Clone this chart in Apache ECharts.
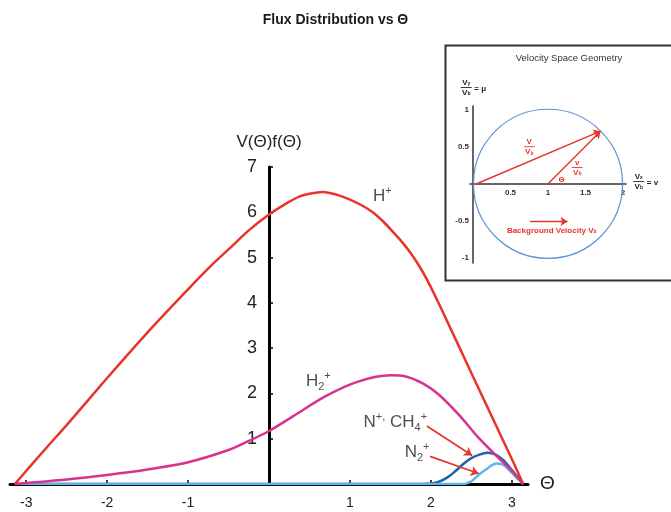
<!DOCTYPE html>
<html>
<head>
<meta charset="utf-8">
<script src="https://cdn.jsdelivr.net/npm/echarts@6/dist/echarts.min.js"></script>
<style>
  html, body { margin: 0; padding: 0; background: #fff; }
  #chart { width: 671px; height: 512px; }
</style>
</head>
<body>
<div id="chart"></div>
<script>
// V(Θ)f(Θ) for each ion species, sampled as [Θ, value]
const hPlus = [[-3.14,0],[-2.75,0.8],[-2.5,1.3],[-2.0,2.34],[-1.5,3.35],[-1.0,4.3],[-0.7,4.85],[-0.5,5.18],
  [-0.25,5.6],[0,5.95],[0.2,6.18],[0.38,6.35],[0.5,6.41],[0.67,6.45],[0.85,6.38],[1.0,6.28],[1.15,6.15],
  [1.29,5.99],[1.42,5.78],[1.54,5.55],[1.65,5.33],[1.75,5.1],[1.85,4.83],[1.95,4.52],[2.1,3.98],
  [2.5,2.45],[3.0,0.55],[3.14,0]];
const h2Plus = [[-3.14,0],[-2.5,0.1],[-2.0,0.2],[-1.5,0.32],[-1.0,0.48],[-0.5,0.75],[-0.25,0.95],[0,1.17],
  [0.3,1.5],[0.7,1.94],[1.1,2.26],[1.5,2.4],[1.7,2.37],[1.9,2.22],[2.1,1.97],[2.35,1.52],[2.6,1.0],
  [2.85,0.55],[2.95,0.38],[3.0,0.29],[3.07,0.15],[3.14,0]];
const nCh4Plus = [[-3.14,0],[1.9,0],[2.0,0.01],[2.1,0.05],[2.2,0.14],[2.3,0.28],[2.4,0.44],[2.5,0.57],
  [2.6,0.65],[2.7,0.69],[2.8,0.65],[2.9,0.52],[2.95,0.42],[3.0,0.31],[3.07,0.16],[3.14,0]];
const n2Plus = [[-3.14,0],[2.4,0],[2.45,0.02],[2.5,0.06],[2.57,0.17],[2.63,0.26],[2.69,0.33],[2.75,0.41],
  [2.81,0.45],[2.87,0.44],[2.92,0.39],[2.97,0.3],[3.02,0.21],[3.08,0.1],[3.14,0]];

// axis ticks
const thetaTicks = [-3, -2, -1, 1, 2, 3];
const fluxTicks = [1, 2, 3, 4, 5, 6, 7];
const insetXTicks = [0.5, 1, 1.5, 2];
const insetYTicks = [-1, -0.5, 0.5, 1];

// species labels and the pointers to the small curves
const speciesLabels = ['{m|H}{sup|+}', '{m|H}{sub|2}{sup|+}', '{m|N}{sup|+,}{m| CH}{sub|4}{sup|+}', '{m|N}{sub|2}{sup|+}'];
const speciesLabelAt = [[1.40, 6.35], [0.61, 2.26], [1.56, 1.36], [1.83, 0.70]];
const pointerLines = [[[1.95, 1.28], [2.51, 0.63]], [[1.99, 0.61], [2.59, 0.23]]];

// velocity-space sketch: circle of speeds, velocity vectors
const circleCenter = [1, 0];
const circleRadius = 1;
const velocityTip = [1.70, 0.71];
const bulkArrow = [[0.76, -0.51], [1.26, -0.51]];

const FONT = 'Liberation Sans, Arial, Helvetica, sans-serif';
const RED = '#e8342a';
const INK = '#222';

// fraction-style annotations inside the sketch
const insetNotes = [
  { at: [-0.09, 1.30], num: ['V', 'y'], den: ['V', 'b'], tail: '= μ', color: INK },
  { at: [2.21, 0.03], num: ['V', 'x'], den: ['V', 'b'], tail: '= v', color: INK },
  { at: [0.75, 0.50], num: ['V', ''], den: ['V', 'b'], tail: '', color: RED },
  { at: [1.39, 0.22], num: ['v', ''], den: ['V', 'b'], tail: '', color: RED }
];
const insetTexts = [
  { at: [1.18, 0.05], text: '{a|Θ}', color: RED },
  { at: [1.05, -0.63], text: '{a|Background Velocity V}{s|b}', color: RED }
];

// plot frames (pixels) and value ranges
const MAIN = { left: 10, top: 167, width: 518, height: 317, xMin: -3.2, xMax: 3.2 };
const SKETCH = { left: 470, top: 106, width: 156, height: 157, xMin: -0.04, xMax: 2.04, yMin: -1.07, yMax: 1.05 };
// shift the axes so that they cross at zero
const mainYOffset = -MAIN.width * (0 - MAIN.xMin) / (MAIN.xMax - MAIN.xMin);
const sketchYOffset = -SKETCH.width * (0 - SKETCH.xMin) / (SKETCH.xMax - SKETCH.xMin);
const sketchXOffset = -SKETCH.height * (0 - SKETCH.yMin) / (SKETCH.yMax - SKETCH.yMin);

const chart = echarts.init(document.getElementById('chart'), null, { renderer: 'canvas' });

function small(color) {
  return {
    a: { fontSize: 8, fontFamily: FONT, color: color, fill: color, fontWeight: 'bold' },
    s: { fontSize: 5, fontFamily: FONT, color: color, fill: color, verticalAlign: 'bottom', fontWeight: 'bold' }
  };
}

chart.setOption({
  animation: false,
  backgroundColor: '#fff',
  title: [
    { text: 'Flux Distribution vs Θ', left: 'center', top: 8,
      textStyle: { fontFamily: FONT, fontSize: 14, fontWeight: 'bold', color: '#1a1a1a' } },
    { text: 'Velocity Space Geometry', left: 564, top: 48, textAlign: 'center',
      textStyle: { fontFamily: FONT, fontSize: 9.5, fontWeight: 'normal', color: '#333' } }
  ],
  graphic: [
    { type: 'rect', left: 443, top: 43, shape: { width: 227, height: 235 },
      style: { fill: 'none', stroke: '#333', lineWidth: 2 }, silent: true }
  ],
  grid: [
    { left: MAIN.left, top: MAIN.top, width: MAIN.width, height: MAIN.height, containLabel: false, outerBoundsMode: 'none' },
    { left: SKETCH.left, top: SKETCH.top, width: SKETCH.width, height: SKETCH.height, containLabel: false, outerBoundsMode: 'none' }
  ],
  xAxis: [
    {
      type: 'value', gridIndex: 0, min: MAIN.xMin, max: MAIN.xMax,
      name: 'Θ', nameLocation: 'end', nameGap: 12,
      nameTextStyle: { fontFamily: FONT, fontSize: 19, color: INK, verticalAlign: 'middle', padding: [0, 0, 4, 0] },
      splitLine: { show: false },
      axisLine: { show: true, onZero: false, lineStyle: { color: '#000', width: 3 } },
      axisTick: { show: true, inside: true, length: 4, customValues: thetaTicks, lineStyle: { color: '#000', width: 1.5 } },
      axisLabel: { show: true, customValues: thetaTicks, margin: 12, fontFamily: FONT, fontSize: 14, color: INK }
    },
    {
      type: 'value', gridIndex: 1, min: SKETCH.xMin, max: SKETCH.xMax, offset: sketchXOffset,
      splitLine: { show: false },
      axisLine: { show: true, onZero: false, lineStyle: { color: '#333', width: 1.5 } },
      axisTick: { show: false },
      axisLabel: { show: true, customValues: insetXTicks, margin: 5, fontFamily: FONT, fontSize: 8, fontWeight: 'bold', color: '#333' }
    }
  ],
  yAxis: [
    {
      type: 'value', gridIndex: 0, min: 0, max: 7, offset: mainYOffset,
      name: 'V(Θ)f(Θ)', nameLocation: 'end', nameGap: 16,
      nameTextStyle: { fontFamily: FONT, fontSize: 17, color: INK, align: 'center', verticalAlign: 'bottom' },
      splitLine: { show: false },
      axisLine: { show: true, onZero: false, lineStyle: { color: '#000', width: 3 } },
      axisTick: { show: true, inside: true, length: 4, customValues: fluxTicks, lineStyle: { color: '#000', width: 1.5 } },
      axisLabel: { show: true, customValues: fluxTicks, margin: 12, fontFamily: FONT, fontSize: 18, color: INK }
    },
    {
      type: 'value', gridIndex: 1, min: SKETCH.yMin, max: SKETCH.yMax, offset: sketchYOffset,
      splitLine: { show: false },
      axisLine: { show: true, onZero: false, lineStyle: { color: '#333', width: 1.5 } },
      axisTick: { show: false },
      axisLabel: { show: true, customValues: insetYTicks, margin: 4, fontFamily: FONT, fontSize: 8, fontWeight: 'bold', color: '#333' }
    }
  ],
  series: [
    { name: 'N+, CH4+', type: 'line', data: nCh4Plus, smooth: 0.3, showSymbol: false, z: 3,
      lineStyle: { color: '#1d62ad', width: 2.5 } },
    { name: 'N2+', type: 'line', data: n2Plus, smooth: 0.3, showSymbol: false, z: 4,
      lineStyle: { color: '#5cb6e8', width: 2.5 } },
    { name: 'H2+', type: 'line', data: h2Plus, smooth: 0.3, showSymbol: false, z: 5,
      lineStyle: { color: '#d8328f', width: 2.5 } },
    { name: 'H+', type: 'line', data: hPlus, smooth: 0.3, showSymbol: false, z: 6,
      lineStyle: { color: RED, width: 2.5 } },
    { name: 'labels', type: 'scatter', data: speciesLabelAt, symbolSize: 1, z: 7,
      itemStyle: { color: 'rgba(0,0,0,0)' },
      label: {
        show: true, position: 'inside',
        formatter: p => speciesLabels[p.dataIndex],
        rich: {
          m: { fontFamily: FONT, fontSize: 17, color: INK, lineHeight: 22 },
          sup: { fontFamily: FONT, fontSize: 11, color: INK, verticalAlign: 'top', lineHeight: 11 },
          sub: { fontFamily: FONT, fontSize: 11, color: INK, verticalAlign: 'bottom', lineHeight: 11 }
        }
      } },
    { name: 'pointers', type: 'lines', coordinateSystem: 'cartesian2d', z: 8,
      data: pointerLines.map(c => ({ coords: c })),
      symbol: ['none', 'arrow'], symbolSize: 8,
      lineStyle: { color: RED, width: 1.6, opacity: 1 } },

    // velocity-space sketch
    { name: 'speed circle', type: 'custom', xAxisIndex: 1, yAxisIndex: 1, clip: false, z: 2,
      data: [circleCenter],
      renderItem: (params, api) => {
        const c = api.coord([api.value(0), api.value(1)]);
        const s = api.size([circleRadius, circleRadius]);
        return { type: 'circle', shape: { cx: c[0], cy: c[1], r: (s[0] + s[1]) / 2 },
          style: { fill: 'none', stroke: '#5b93d3', lineWidth: 1.2 } };
      } },
    { name: 'velocity vectors', type: 'lines', coordinateSystem: 'cartesian2d', xAxisIndex: 1, yAxisIndex: 1, z: 4,
      data: [{ coords: [[0.05, 0], velocityTip] }, { coords: [circleCenter, velocityTip] }, { coords: bulkArrow }],
      symbol: ['none', 'arrow'], symbolSize: 7,
      lineStyle: { color: RED, width: 1.4, opacity: 1 } },
    { name: 'sketch notes', type: 'custom', xAxisIndex: 1, yAxisIndex: 1, clip: false, z: 5,
      data: insetNotes.map(n => n.at),
      renderItem: (params, api) => {
        const n = insetNotes[params.dataIndex];
        const p = api.coord([api.value(0), api.value(1)]);
        const r = small(n.color);
        const kids = [
          { type: 'text', x: p[0], y: p[1] - 1,
            style: { text: '{a|' + n.num[0] + '}' + (n.num[1] ? '{s|' + n.num[1] + '}' : ''), rich: r,
              align: 'center', verticalAlign: 'bottom', fill: n.color } },
          { type: 'line', shape: { x1: p[0] - 5.5, y1: p[1], x2: p[0] + 5.5, y2: p[1] },
            style: { stroke: n.color, lineWidth: 0.9 } },
          { type: 'text', x: p[0], y: p[1] + 1,
            style: { text: '{a|' + n.den[0] + '}{s|' + n.den[1] + '}', rich: r,
              align: 'center', verticalAlign: 'top', fill: n.color } }
        ];
        if (n.tail) {
          kids.push({ type: 'text', x: p[0] + 8, y: p[1] + 1,
            style: { text: '{a|' + n.tail + '}', rich: r, align: 'left', verticalAlign: 'middle', fill: n.color } });
        }
        return { type: 'group', children: kids };
      } },
    { name: 'sketch text', type: 'custom', xAxisIndex: 1, yAxisIndex: 1, clip: false, z: 5,
      data: insetTexts.map(t => t.at),
      renderItem: (params, api) => {
        const t = insetTexts[params.dataIndex];
        const p = api.coord([api.value(0), api.value(1)]);
        return { type: 'text', x: p[0], y: p[1],
          style: { text: t.text, rich: small(t.color), align: 'center', verticalAlign: 'middle', fill: t.color } };
      } }
  ]
});
</script>
</body>
</html>
